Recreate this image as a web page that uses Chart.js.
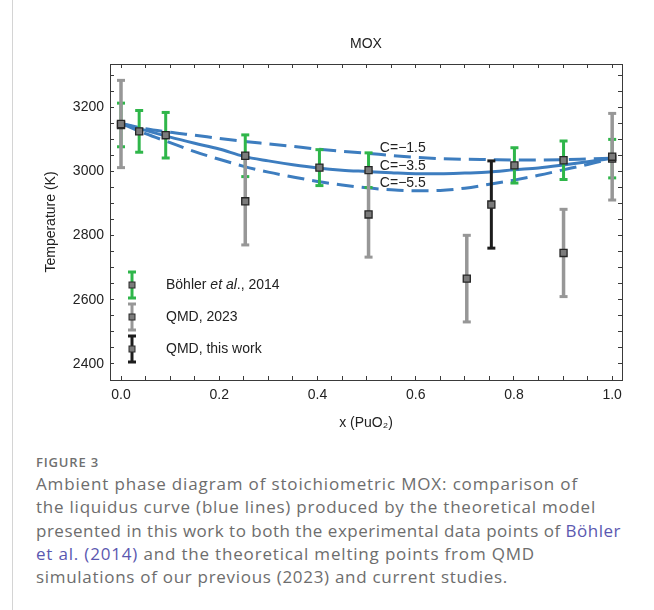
<!DOCTYPE html>
<html>
<head>
<meta charset="utf-8">
<script src="https://cdn.jsdelivr.net/npm/chart.js@4/dist/chart.umd.min.js"></script>
<style>
  html, body { margin: 0; padding: 0; background: #fff; }
  #wrap { position: relative; width: 654px; height: 610px; overflow: hidden; }
  #vline { position: absolute; left: 12px; top: 0; width: 1px; height: 610px; background: #d4d4d4; }
  #cv { position: absolute; left: 0; top: 0; }
  #cap { position: absolute; left: 36px; top: 453px; width: 618px; font-family: "Open Sans", Lato, sans-serif; color: #6d6d6d; }
  #cap .fig { font-size: 13px; font-weight: 600; line-height: 19px; color: #707070; white-space: nowrap; }
  #cap .ln { font-size: 17px; line-height: 23.3px; white-space: nowrap; }
  #cap .ln span { display: inline-block; }
  #cap a { color: #5b58b0; text-decoration: none; }
</style>
</head>
<body>
<div id="wrap">
  <div id="vline"></div>
  <canvas id="cv" width="654" height="440"></canvas>
  <div id="cap">
    <div class="fig"><span id="figt">FIGURE 3</span></div>
    <div class="ln"><span>Ambient phase diagram of stoichiometric MOX: comparison of</span></div>
    <div class="ln"><span>the liquidus curve (blue lines) produced by the theoretical model</span></div>
    <div class="ln"><span>presented in this work to both the experimental data points of <a>Böhler</a></span></div>
    <div class="ln"><span><a>et al. (2014)</a> and the theoretical melting points from QMD</span></div>
    <div class="ln"><span>simulations of our previous (2023) and current studies.</span></div>
  </div>
</div>
<script>
// ---- data ----
const curveX = [0.00,0.05,0.10,0.15,0.20,0.25,0.30,0.35,0.40,0.45,0.50,0.55,0.60,0.65,0.70,0.75,0.80,0.85,0.90,0.95,1.00];
const curveC15 = [3150,3133,3122,3113,3103,3094,3086,3078,3070,3063,3057,3050,3044,3040,3038,3037,3036,3036,3037,3039,3041];
const curveC35 = [3150,3128,3107,3088,3070,3047,3033,3021,3011,3004,3000,2996,2993,2993,2995,2998,3005,3011,3020,3030,3041];
const curveC55 = [3150,3118,3090,3062,3038,3016,2998,2983,2969,2958,2949,2943,2940,2941,2948,2960,2973,2988,3005,3022,3041];

const bohlerX   = [0.000, 0.037, 0.091, 0.253, 0.404, 0.504, 0.801, 0.901, 1.000];
const bohlerT   = [3145, 3125, 3113, 3049, 3012, 3004, 3019, 3035, 3040];
const bohlerErr = [68, 65, 71, 65, 56, 54, 55, 60, 60];

const qmd2023X   = [0.000, 0.253, 0.504, 0.704, 0.901, 1.000];
const qmd2023T   = [3148, 2907, 2866, 2666, 2746, 3046];
const qmd2023Err = [136, 136, 133, 135, 136, 135];

const qmdNowX   = [0.754];
const qmdNowT   = [2897];
const qmdNowErr = [136];

const curveLabels = ['C=\u22121.5', 'C=\u22123.5', 'C=\u22125.5'];
const legendLabels = ['Böhler et al., 2014', 'QMD, 2023', 'QMD, this work'];
const xTickLabels = ['0.0', '0.2', '0.4', '0.6', '0.8', '1.0'];
const yTickLabels = ['2400', '2600', '2800', '3000', '3200'];

// ---- styling / layout (not data) ----
const BLUE = '#3d7dbf', GREEN = '#2fb64a', GRAY = '#979797', BLACK = '#1c1c1c';
const FONT = '"Liberation Sans", Arial, sans-serif';
const FS = 14;
const X_MIN = -0.0224, X_MAX = 1.02, Y_MIN = 2350, Y_MAX = 3335;
const labelAnchor = { x: 0.527, y: [3073, 3017, 2964] };
const captionLineWidths = [542, 560, 585, 499, 472];
const figLabelWidth = 63;

// fit caption lines to the reference widths
function fitSpan(el, target) {
  const n = el.textContent.length;
  const w = el.getBoundingClientRect().width;
  el.style.letterSpacing = ((target - w) / n) + 'px';
}
document.querySelectorAll('#cap .ln span').forEach((el, i) => fitSpan(el, captionLineWidths[i]));
fitSpan(document.getElementById('figt'), figLabelWidth);

function pts(xs, ys) { return xs.map((x, i) => ({ x: x, y: ys[i] })); }
function errPts(xs, ys, es) {
  const out = [];
  xs.forEach((x, i) => { out.push({ x: x, y: ys[i] - es[i] }, { x: x, y: ys[i] + es[i] }, { x: x, y: null }); });
  return out;
}
function errSet(label, xs, ys, es, color, width, order) {
  return {
    type: 'line', label: label, data: errPts(xs, ys, es), spanGaps: false,
    borderColor: color, borderWidth: width, pointStyle: 'line', pointRadius: 4,
    pointBorderColor: color, pointBorderWidth: 3, pointBackgroundColor: color, order: order
  };
}
function curveSet(label, ys, dash) {
  return {
    type: 'line', label: label, data: pts(curveX, ys), borderColor: BLUE, borderWidth: 3,
    borderDash: dash, pointRadius: 0, cubicInterpolationMode: 'monotone', fill: false, order: 10
  };
}
const allMarkers = pts(bohlerX, bohlerT).concat(pts(qmd2023X, qmd2023T), pts(qmdNowX, qmdNowT));

const minorTicks = (lo, hi, step) => { const a = []; for (let v = lo; v <= hi + 1e-9; v += step) a.push({ value: Math.round(v * 1000) / 1000 }); return a; };

const axisCommon = {
  type: 'linear',
  border: { display: true, color: '#3a3a3a', width: 1 },
  grid: { drawOnChartArea: false, drawTicks: true, tickLength: -4, tickColor: '#3a3a3a', tickWidth: 1 },
};

const overlay = {
  id: 'overlay',
  afterDatasetsDraw(chart) {
    const { ctx, chartArea: a, scales } = chart;
    ctx.save();
    ctx.fillStyle = '#222';
    ctx.font = FS + 'px ' + FONT;
    ctx.textAlign = 'center'; ctx.textBaseline = 'middle';
    ctx.fillText('MOX', (a.left + a.right) / 2, 44);
    ctx.textAlign = 'left';
    curveLabels.forEach((t, i) => {
      ctx.fillText(t, scales.x.getPixelForValue(labelAnchor.x), scales.y.getPixelForValue(labelAnchor.y[i]));
    });
    const cols = [GREEN, GRAY, BLACK];
    const lx = a.left + 22, tx = a.left + 56;
    cols.forEach((c, i) => {
      const cy = a.bottom - 95 + i * 32;
      ctx.strokeStyle = c; ctx.lineWidth = 3;
      ctx.beginPath(); ctx.moveTo(lx, cy - 13); ctx.lineTo(lx, cy + 13); ctx.stroke();
      ctx.beginPath(); ctx.moveTo(lx - 4, cy - 13); ctx.lineTo(lx + 4, cy - 13);
      ctx.moveTo(lx - 4, cy + 13); ctx.lineTo(lx + 4, cy + 13); ctx.stroke();
      ctx.fillStyle = '#7b7b7b'; ctx.fillRect(lx - 3, cy - 3, 6, 6);
      ctx.strokeStyle = '#2a2a2a'; ctx.lineWidth = 1; ctx.strokeRect(lx - 3, cy - 3, 6, 6);
      ctx.fillStyle = '#222'; ctx.textBaseline = 'middle';
      if (i === 0) {
        let x = tx;
        const parts = [['Böhler ', ''], ['et al', 'italic '], ['., 2014', '']];
        parts.forEach(p => { ctx.font = p[1] + FS + 'px ' + FONT; ctx.fillText(p[0], x, cy); x += ctx.measureText(p[0]).width; });
      } else {
        ctx.font = FS + 'px ' + FONT;
        ctx.fillText(legendLabels[i], tx, cy);
      }
    });
    ctx.restore();
  }
};

new Chart(document.getElementById('cv'), {
  type: 'line',
  data: {
    datasets: [
      { type: 'line', label: 'markers', data: allMarkers, showLine: false, pointStyle: 'rect', pointRadius: 5,
        pointBackgroundColor: '#7b7b7b', pointBorderColor: '#262626', pointBorderWidth: 1.3, order: 0 },
      errSet(legendLabels[2], qmdNowX, qmdNowT, qmdNowErr, BLACK, 3, 1),
      errSet(legendLabels[1], qmd2023X, qmd2023T, qmd2023Err, GRAY, 3.5, 2),
      errSet(legendLabels[0], bohlerX, bohlerT, bohlerErr, GREEN, 3, 3),
      curveSet(curveLabels[0], curveC15, [17, 8]),
      curveSet(curveLabels[1], curveC35, []),
      curveSet(curveLabels[2], curveC55, [17, 8]),
    ]
  },
  options: {
    responsive: false, animation: false, events: [],
    layout: { padding: { top: 64, left: 0, right: 0, bottom: 0 } },
    plugins: { legend: { display: false }, tooltip: { enabled: false }, title: { display: false } },
    scales: {
      x: Object.assign({}, axisCommon, {
        position: 'bottom', min: X_MIN, max: X_MAX,
        afterBuildTicks: s => { s.ticks = minorTicks(0, 1, 0.05); },
        afterFit: s => { s.height = 60; },
        ticks: { autoSkip: false, maxRotation: 0, padding: 11, color: '#222', font: { family: FONT, size: FS },
          callback: v => { const k = Math.round(v * 5); return Math.abs(v * 5 - k) < 1e-6 ? xTickLabels[k] : ''; } },
        title: { display: true, text: 'x (PuO\u2082)', color: '#222', font: { family: FONT, size: FS }, padding: { top: 0, bottom: 8 } }
      }),
      x2: Object.assign({}, axisCommon, {
        position: 'top', min: X_MIN, max: X_MAX,
        afterBuildTicks: s => { s.ticks = minorTicks(0, 1, 0.05); },
        afterFit: s => { s.height = 0; },
        ticks: { display: false }
      }),
      y: Object.assign({}, axisCommon, {
        position: 'left', min: Y_MIN, max: Y_MAX,
        afterBuildTicks: s => { s.ticks = minorTicks(2400, 3300, 50); },
        afterFit: s => { s.width = 110; },
        ticks: { autoSkip: false, padding: 10, color: '#222', font: { family: FONT, size: FS },
          callback: v => { const k = (v - 2400) / 200; return Number.isInteger(k) ? yTickLabels[k] : ''; } },
        title: { display: true, text: 'Temperature (K)', color: '#222', font: { family: FONT, size: FS }, padding: { top: 43, bottom: 0 } }
      }),
      y2: Object.assign({}, axisCommon, {
        position: 'right', min: Y_MIN, max: Y_MAX,
        afterBuildTicks: s => { s.ticks = minorTicks(2400, 3300, 50); },
        afterFit: s => { s.width = 32; },
        ticks: { display: false }
      })
    }
  },
  plugins: [overlay]
});
</script>
</body>
</html>
